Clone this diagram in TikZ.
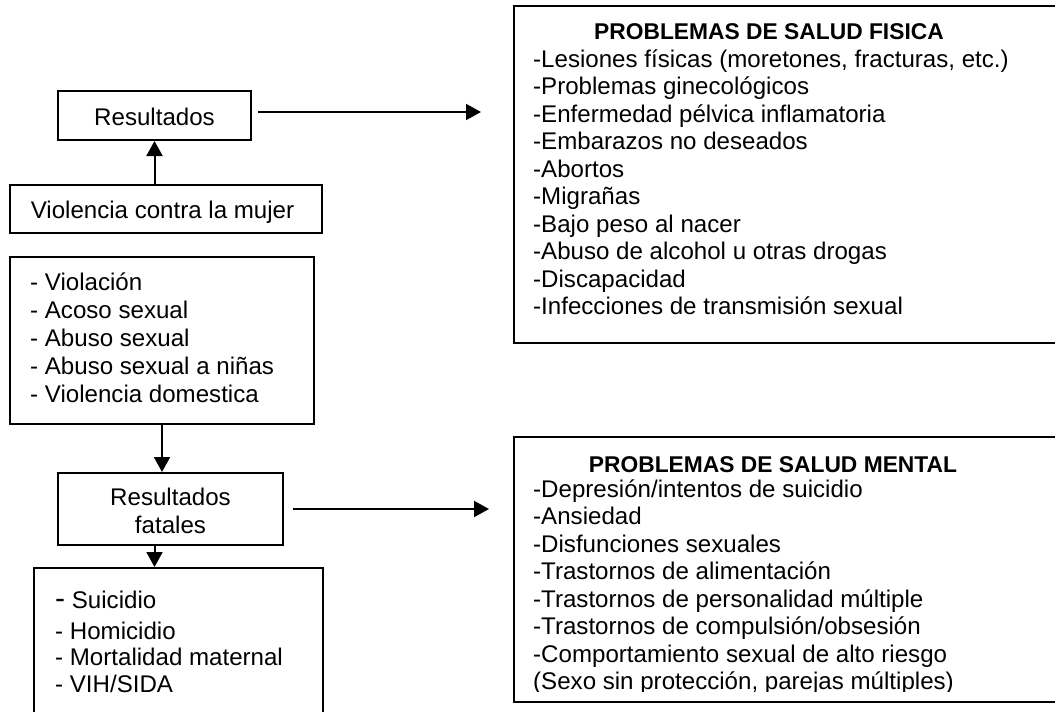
\documentclass[tikz,border=0pt]{standalone}
\usepackage{fontspec}
\setmainfont{Liberation Sans}
\usetikzlibrary{arrows.meta}
\newcommand\bodyfs{\fontsize{24.1}{28}\selectfont}
\newcommand\titlefs{\fontsize{22.8}{28}\selectfont\bfseries}
\begin{document}
\begin{tikzpicture}[x=1pt,y=-1pt,
  box/.style={draw, line width=2pt, inner sep=0pt},
  txt/.style={inner sep=0pt, anchor=base west, font=\bodyfs},
  ctxt/.style={inner sep=0pt, anchor=base, font=\bodyfs},
  ttl/.style={inner sep=0pt, anchor=base, font=\titlefs},
  arr/.style={line width=2pt, -{Triangle[length=15pt,width=16pt]}}]
\useasboundingbox (0,0) rectangle (1055,712);

% boxes
\node[box, minimum width=193pt, minimum height=49pt] (res) at (154.5,115.5) {};
\node[box, minimum width=312pt, minimum height=48pt] (vio) at (166,209) {};
\node[box, minimum width=304pt, minimum height=167pt] (list) at (162,340.5) {};
\node[box, minimum width=225pt, minimum height=72pt] (fat) at (170.5,509) {};
\node[box, minimum width=289pt, minimum height=162pt] (fin) at (178.5,649) {};
\node[box, minimum width=556pt, minimum height=337pt] (fis) at (792,174.5) {};
\node[box, minimum width=556pt, minimum height=265pt] (men) at (792,569.5) {};

% texts left column
\node[ctxt] (tres) at (154.5,125) {Resultados};
\node[ctxt] (tvio) at (162.5,218) {Violencia contra la mujer};
\node[txt] (l1) at (30,290) {- Violación};
\node[txt] (l2) at (30,318) {- Acoso sexual};
\node[txt] (l3) at (30,346) {- Abuso sexual};
\node[txt] (l4) at (30,374) {- Abuso sexual a niñas};
\node[txt] (l5) at (30,402) {- Violencia domestica};
\node[ctxt] (tfat1) at (170.5,505.5) {Resultados};
\node[ctxt] (tfat2) at (170.5,533.5) {fatales};
\node[txt] (f1) at (55,608) {{\fontsize{30}{30}\selectfont -} Suicidio};
\node[txt] (f2) at (55,639) {- Homicidio};
\node[txt] (f3) at (55,665) {- Mortalidad maternal};
\node[txt] (f4) at (55,692) {- VIH/SIDA};

% physical health
\node[ttl] (tfis) at (769,39) {PROBLEMAS DE SALUD FISICA};
\node[txt] (p1) at (533,67) {-Lesiones físicas (moretones, fracturas, etc.)};
\node[txt] (p2) at (533,94.5) {-Problemas ginecológicos};
\node[txt] (p3) at (533,122) {-Enfermedad pélvica inflamatoria};
\node[txt] (p4) at (533,149.5) {-Embarazos no deseados};
\node[txt] (p5) at (533,177) {-Abortos};
\node[txt] (p6) at (533,204.5) {-Migrañas};
\node[txt] (p7) at (533,232) {-Bajo peso al nacer};
\node[txt] (p8) at (533,259.5) {-Abuso de alcohol u otras drogas};
\node[txt] (p9) at (533,287) {-Discapacidad};
\node[txt] (p10) at (533,314.5) {-Infecciones de transmisión sexual};

% mental health
\node[ttl] (tmen) at (773,472) {PROBLEMAS DE SALUD MENTAL};
\node[txt] (m1) at (533,497) {-Depresión/intentos de suicidio};
\node[txt] (m2) at (533,524.5) {-Ansiedad};
\node[txt] (m3) at (533,552) {-Disfunciones sexuales};
\node[txt] (m4) at (533,579.5) {-Trastornos de alimentación};
\node[txt] (m5) at (533,607) {-Trastornos de personalidad múltiple};
\node[txt] (m6) at (533,634.5) {-Trastornos de compulsión/obsesión};
\node[txt] (m7) at (533,662) {-Comportamiento sexual de alto riesgo};
\begin{scope}
\clip (520,660) rectangle (1050,691.5);
\node[txt] (m8) at (533,689.5) {(Sexo sin protección, parejas múltiples)};
\end{scope}

% connectors
\draw[arr] (vio.north -| res.south) -- (res.south);
\draw[arr, shorten <=6pt, shorten >=32pt] ([yshift=3.5pt]res.east) -- ([yshift=3.5pt]res.east -| fis.west);
\draw[arr] (list.south) -- (list.south |- fat.north);
\draw[arr, shorten <=9pt, shorten >=24pt] (fat.east) -- (fat.east -| men.west);
\draw[arr] (res.south |- fat.south) -- (res.south |- fin.north);
\end{tikzpicture}
\end{document}
